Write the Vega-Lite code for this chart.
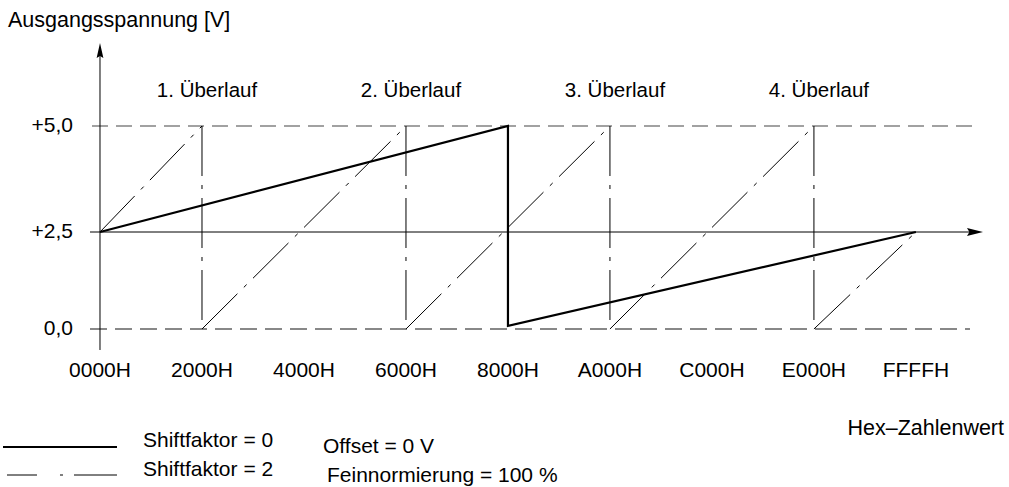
{
  "$schema": "https://vega.github.io/schema/vega-lite/v6.json",
  "width": 1009,
  "height": 487,
  "autosize": {"type": "none"},
  "padding": 0,
  "background": "white",
  "config": {"view": {"stroke": null}, "font": "Liberation Sans", "text": {"font": "Liberation Sans", "color": "black"}},
  "data": {"values": [{}]},
  "datasets": {
    "shift0": [
      {"i": 1, "x": 0, "v": 2.5},
      {"i": 2, "x": 32768, "v": 5},
      {"i": 3, "x": 32768, "v": 0.08},
      {"i": 4, "x": 65535, "v": 2.5}
    ],
    "shift2": [
      {"x": 0, "v": 2.5, "x2": 8192, "v2": 5},
      {"x": 8192, "v": 0, "x2": 24576, "v2": 5},
      {"x": 24576, "v": 0, "x2": 40960, "v2": 5},
      {"x": 40960, "v": 0, "x2": 57344, "v2": 5},
      {"x": 57344, "v": 0, "x2": 65535, "v2": 2.5},
      {"x": 8192, "v": 5, "x2": 8192, "v2": 0},
      {"x": 24576, "v": 5, "x2": 24576, "v2": 0},
      {"x": 40960, "v": 5, "x2": 40960, "v2": 0},
      {"x": 57344, "v": 5, "x2": 57344, "v2": 0}
    ],
    "xticks": [
      {"label": "0000H", "x": 0},
      {"label": "2000H", "x": 8192},
      {"label": "4000H", "x": 16384},
      {"label": "6000H", "x": 24576},
      {"label": "8000H", "x": 32768},
      {"label": "A000H", "x": 40960},
      {"label": "C000H", "x": 49152},
      {"label": "E000H", "x": 57344},
      {"label": "FFFFH", "x": 65535}
    ],
    "yticks": [
      {"label": "+5,0", "v": 5},
      {"label": "+2,5", "v": 2.5},
      {"label": "0,0", "v": 0}
    ],
    "overflow": [
      {"label": "1. Überlauf", "x": 8192},
      {"label": "2. Überlauf", "x": 24576},
      {"label": "3. Überlauf", "x": 40960},
      {"label": "4. Überlauf", "x": 57344}
    ]
  },
  "layer": [
    {
      "mark": {"type": "rule", "color": "#444444", "strokeWidth": 1.2, "strokeDash": [16, 8]},
      "encoding": {
        "x": {"datum": -643, "type": "quantitative", "scale": {"domain": [-8032, 73012], "nice": false, "zero": false}, "axis": null},
        "x2": {"datum": 70281},
        "y": {"datum": 5, "type": "quantitative", "scale": {"domain": [-4.072, 0, 2.5, 5, 7.972], "range": [487, 329, 232, 126, 0], "nice": false, "zero": false}, "axis": null}
      }
    },
    {
      "mark": {"type": "rule", "color": "#888888", "strokeWidth": 2, "strokeDash": [17, 8]},
      "encoding": {
        "x": {"datum": -803, "type": "quantitative", "scale": {"domain": [-8032, 73012], "nice": false, "zero": false}, "axis": null},
        "x2": {"datum": 69880},
        "y": {"datum": 0, "type": "quantitative", "scale": {"domain": [-4.072, 0, 2.5, 5, 7.972], "range": [487, 329, 232, 126, 0], "nice": false, "zero": false}, "axis": null}
      }
    },
    {
      "mark": {"type": "rule", "color": "black", "strokeWidth": 1},
      "encoding": {
        "x": {"datum": -803, "type": "quantitative", "scale": {"domain": [-8032, 73012], "nice": false, "zero": false}, "axis": null},
        "x2": {"datum": 69880},
        "y": {"datum": 2.5, "type": "quantitative", "scale": {"domain": [-4.072, 0, 2.5, 5, 7.972], "range": [487, 329, 232, 126, 0], "nice": false, "zero": false}, "axis": null}
      }
    },
    {
      "mark": {"type": "rule", "color": "black", "strokeWidth": 1},
      "encoding": {
        "x": {"datum": 0, "type": "quantitative", "scale": {"domain": [-8032, 73012], "nice": false, "zero": false}, "axis": null},
        "y": {"datum": -0.541, "type": "quantitative", "scale": {"domain": [-4.072, 0, 2.5, 5, 7.972], "range": [487, 329, 232, 126, 0], "nice": false, "zero": false}, "axis": null},
        "y2": {"datum": 6.675}
      }
    },
    {
      "mark": {"type": "point", "filled": true, "color": "black", "opacity": 1, "strokeWidth": 0, "size": 225, "shape": "M0,-1L0.45,1L0,0.75L-0.45,1Z"},
      "encoding": {
        "x": {"datum": 0, "type": "quantitative", "scale": {"domain": [-8032, 73012], "nice": false, "zero": false}, "axis": null},
        "y": {"datum": 6.781, "type": "quantitative", "scale": {"domain": [-4.072, 0, 2.5, 5, 7.972], "range": [487, 329, 232, 126, 0], "nice": false, "zero": false}, "axis": null}
      }
    },
    {
      "mark": {"type": "point", "filled": true, "color": "black", "opacity": 1, "strokeWidth": 0, "size": 256, "shape": "M1,0L-1,-0.5L-0.7,0L-1,0.5Z"},
      "encoding": {
        "x": {"datum": 70281, "type": "quantitative", "scale": {"domain": [-8032, 73012], "nice": false, "zero": false}, "axis": null},
        "y": {"datum": 2.5, "type": "quantitative", "scale": {"domain": [-4.072, 0, 2.5, 5, 7.972], "range": [487, 329, 232, 126, 0], "nice": false, "zero": false}, "axis": null}
      }
    },
    {
      "data": {"name": "shift2"},
      "mark": {"type": "rule", "color": "black", "strokeWidth": 1, "strokeDash": [50, 9, 4, 9]},
      "encoding": {
        "x": {"field": "x", "type": "quantitative", "scale": {"domain": [-8032, 73012], "nice": false, "zero": false}, "axis": null},
        "x2": {"field": "x2"},
        "y": {"field": "v", "type": "quantitative", "scale": {"domain": [-4.072, 0, 2.5, 5, 7.972], "range": [487, 329, 232, 126, 0], "nice": false, "zero": false}, "axis": null},
        "y2": {"field": "v2"}
      }
    },
    {
      "data": {"name": "shift0"},
      "mark": {"type": "line", "color": "black", "strokeWidth": 2.2, "strokeJoin": "miter"},
      "encoding": {
        "x": {"field": "x", "type": "quantitative", "scale": {"domain": [-8032, 73012], "nice": false, "zero": false}, "axis": null},
        "y": {"field": "v", "type": "quantitative", "scale": {"domain": [-4.072, 0, 2.5, 5, 7.972], "range": [487, 329, 232, 126, 0], "nice": false, "zero": false}, "axis": null},
        "order": {"field": "i", "type": "quantitative"}
      }
    },
    {
      "data": {"name": "xticks"},
      "mark": {"type": "text", "fontSize": 21, "align": "center", "baseline": "alphabetic"},
      "encoding": {
        "x": {"field": "x", "type": "quantitative", "scale": {"domain": [-8032, 73012], "nice": false, "zero": false}, "axis": null},
        "y": {"datum": -1.237, "type": "quantitative", "scale": {"domain": [-4.072, 0, 2.5, 5, 7.972], "range": [487, 329, 232, 126, 0], "nice": false, "zero": false}, "axis": null},
        "text": {"field": "label"}
      }
    },
    {
      "data": {"name": "yticks"},
      "mark": {"type": "text", "fontSize": 21, "align": "right", "baseline": "middle"},
      "encoding": {
        "x": {"datum": -2169, "type": "quantitative", "scale": {"domain": [-8032, 73012], "nice": false, "zero": false}, "axis": null},
        "y": {"field": "v", "type": "quantitative", "scale": {"domain": [-4.072, 0, 2.5, 5, 7.972], "range": [487, 329, 232, 126, 0], "nice": false, "zero": false}, "axis": null},
        "text": {"field": "label"}
      }
    },
    {
      "data": {"name": "overflow"},
      "mark": {"type": "text", "fontSize": 20.5, "align": "center", "baseline": "alphabetic", "dx": 5},
      "encoding": {
        "x": {"field": "x", "type": "quantitative", "scale": {"domain": [-8032, 73012], "nice": false, "zero": false}, "axis": null},
        "y": {"datum": 5.684, "type": "quantitative", "scale": {"domain": [-4.072, 0, 2.5, 5, 7.972], "range": [487, 329, 232, 126, 0], "nice": false, "zero": false}, "axis": null},
        "text": {"field": "label"}
      }
    },
    {
      "mark": {"type": "text", "fontSize": 21.5, "align": "left", "baseline": "alphabetic", "text": "Ausgangsspannung [V]"},
      "encoding": {
        "x": {"datum": -7390, "type": "quantitative", "scale": {"domain": [-8032, 73012], "nice": false, "zero": false}, "axis": null},
        "y": {"datum": 7.335, "type": "quantitative", "scale": {"domain": [-4.072, 0, 2.5, 5, 7.972], "range": [487, 329, 232, 126, 0], "nice": false, "zero": false}, "axis": null}
      }
    },
    {
      "mark": {"type": "text", "fontSize": 21.5, "align": "right", "baseline": "alphabetic", "text": "Hex–Zahlenwert"},
      "encoding": {
        "x": {"datum": 72610, "type": "quantitative", "scale": {"domain": [-8032, 73012], "nice": false, "zero": false}, "axis": null},
        "y": {"datum": -2.732, "type": "quantitative", "scale": {"domain": [-4.072, 0, 2.5, 5, 7.972], "range": [487, 329, 232, 126, 0], "nice": false, "zero": false}, "axis": null}
      }
    },
    {
      "mark": {"type": "rule", "color": "black", "strokeWidth": 2},
      "encoding": {
        "x": {"datum": -7791, "type": "quantitative", "scale": {"domain": [-8032, 73012], "nice": false, "zero": false}, "axis": null},
        "x2": {"datum": 1365},
        "y": {"datum": -3.041, "type": "quantitative", "scale": {"domain": [-4.072, 0, 2.5, 5, 7.972], "range": [487, 329, 232, 126, 0], "nice": false, "zero": false}, "axis": null}
      }
    },
    {
      "mark": {"type": "rule", "color": "black", "strokeWidth": 1, "strokeDash": [30, 23, 3, 11, 43, 60]},
      "encoding": {
        "x": {"datum": -7470, "type": "quantitative", "scale": {"domain": [-8032, 73012], "nice": false, "zero": false}, "axis": null},
        "x2": {"datum": 1365},
        "y": {"datum": -3.763, "type": "quantitative", "scale": {"domain": [-4.072, 0, 2.5, 5, 7.972], "range": [487, 329, 232, 126, 0], "nice": false, "zero": false}, "axis": null}
      }
    },
    {
      "mark": {"type": "text", "fontSize": 21, "align": "left", "baseline": "alphabetic", "text": "Shiftfaktor = 0"},
      "encoding": {
        "x": {"datum": 3454, "type": "quantitative", "scale": {"domain": [-8032, 73012], "nice": false, "zero": false}, "axis": null},
        "y": {"datum": -3.041, "type": "quantitative", "scale": {"domain": [-4.072, 0, 2.5, 5, 7.972], "range": [487, 329, 232, 126, 0], "nice": false, "zero": false}, "axis": null}
      }
    },
    {
      "mark": {"type": "text", "fontSize": 21, "align": "left", "baseline": "alphabetic", "text": "Shiftfaktor = 2"},
      "encoding": {
        "x": {"datum": 3454, "type": "quantitative", "scale": {"domain": [-8032, 73012], "nice": false, "zero": false}, "axis": null},
        "y": {"datum": -3.789, "type": "quantitative", "scale": {"domain": [-4.072, 0, 2.5, 5, 7.972], "range": [487, 329, 232, 126, 0], "nice": false, "zero": false}, "axis": null}
      }
    },
    {
      "mark": {"type": "text", "fontSize": 21, "align": "left", "baseline": "alphabetic", "text": "Offset = 0 V"},
      "encoding": {
        "x": {"datum": 17912, "type": "quantitative", "scale": {"domain": [-8032, 73012], "nice": false, "zero": false}, "axis": null},
        "y": {"datum": -3.2, "type": "quantitative", "scale": {"domain": [-4.072, 0, 2.5, 5, 7.972], "range": [487, 329, 232, 126, 0], "nice": false, "zero": false}, "axis": null}
      }
    },
    {
      "mark": {"type": "text", "fontSize": 21, "align": "left", "baseline": "alphabetic", "text": "Feinnormierung = 100 %"},
      "encoding": {
        "x": {"datum": 18233, "type": "quantitative", "scale": {"domain": [-8032, 73012], "nice": false, "zero": false}, "axis": null},
        "y": {"datum": -3.943, "type": "quantitative", "scale": {"domain": [-4.072, 0, 2.5, 5, 7.972], "range": [487, 329, 232, 126, 0], "nice": false, "zero": false}, "axis": null}
      }
    }
  ]
}
